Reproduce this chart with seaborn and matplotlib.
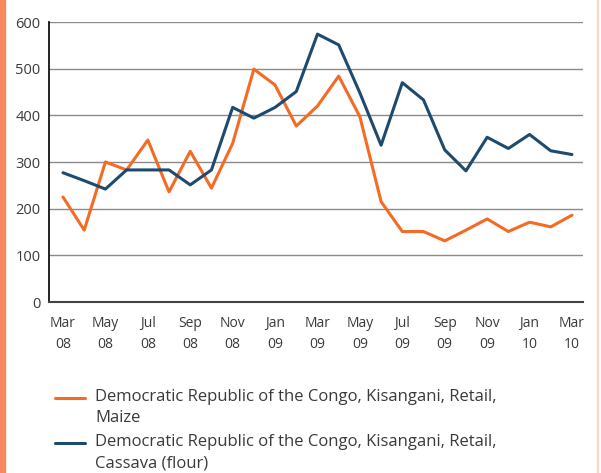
import numpy as np
import pandas as pd
import matplotlib
matplotlib.use("Agg")
import matplotlib.pyplot as plt
import seaborn as sns
from matplotlib.patches import Rectangle
from matplotlib.transforms import Affine2D

# monthly prices, Mar 08 .. Mar 10
months = ["Mar 08", "Apr 08", "May 08", "Jun 08", "Jul 08", "Aug 08", "Sep 08",
          "Oct 08", "Nov 08", "Dec 08", "Jan 09", "Feb 09", "Mar 09", "Apr 09",
          "May 09", "Jun 09", "Jul 09", "Aug 09", "Sep 09", "Oct 09", "Nov 09",
          "Dec 09", "Jan 10", "Feb 10", "Mar 10"]
maize = [225, 154, 300, 283, 347, 236, 323, 244, 340, 499, 465, 377, 420,
         484, 397, 215, 151, 151, 131, 154, 178, 151, 171, 161, 186]
cassava = [277, 260, 242, 283, 283, 283, 251, 283, 417, 394, 417, 451, 574,
           551, 448, 336, 470, 433, 326, 281, 353, 329, 359, 324, 316]
tick_labels = ["Mar\n08", "May\n08", "Jul\n08", "Sep\n08", "Nov\n08", "Jan\n09",
               "Mar\n09", "May\n09", "Jul\n09", "Sep\n09", "Nov\n09", "Jan\n10",
               "Mar\n10"]
series_names = ["Democratic Republic of the Congo, Kisangani, Retail,\nMaize",
                "Democratic Republic of the Congo, Kisangani, Retail,\nCassava (flour)"]
colors = ["#F36B24", "#1E4A6E"]

df = pd.DataFrame({
    "idx": list(range(len(months))) * 2,
    "price": maize + cassava,
    "series": [series_names[0]] * len(months) + [series_names[1]] * len(months),
})

sns.set_style("white")
plt.rcParams["font.family"] = ["Open Sans", "DejaVu Sans"]

fig = plt.figure(figsize=(6.01, 4.73), dpi=100)
ax = fig.add_axes([49 / 601, 1 - 302 / 473, (583 - 49) / 601, 280 / 473])

sns.lineplot(data=df, x="idx", y="price", hue="series",
             palette=colors, linewidth=2.2, ax=ax, legend=True)

ax.set_xlim(-0.66, 24.52)
ax.set_ylim(0, 600)
ax.set_yticks(range(0, 601, 100))
ax.yaxis.grid(True, color="#8a8a8a", linewidth=1)
ax.xaxis.grid(False)
ax.set_axisbelow(True)

ax.set_xticks(range(0, 25, 2))
ax.set_xticklabels(tick_labels, fontsize=10, color="#3a3a3a", linespacing=1.55)
ax.set_xticks(range(1, 25, 2), minor=True)
ax.tick_params(axis="x", which="major", direction="out", length=5, width=1,
               color="#333333", pad=5)
ax.tick_params(axis="x", which="minor", direction="out", length=3.5, width=1,
               color="#333333")
ax.tick_params(axis="y", direction="out", length=3, width=1, color="#222222",
               labelsize=10.5, labelcolor="#3a3a3a", pad=3)
ax.set_xlabel("")
ax.set_ylabel("")

for side in ["top", "right"]:
    ax.spines[side].set_visible(False)
ax.spines["left"].set_color("#111111")
ax.spines["left"].set_linewidth(1.3)
ax.spines["bottom"].set_color("#444444")
ax.spines["bottom"].set_linewidth(1.5)

handles, labels = ax.get_legend_handles_labels()
leg = ax.legend(handles, labels, loc="upper left",
                bbox_to_anchor=(55 / 601, 1 - 389 / 473),
                bbox_transform=fig.transFigure, frameon=False, fontsize=12,
                handlelength=1.8, handletextpad=0.6, labelspacing=0.45,
                labelcolor="#3a3a3a", borderaxespad=0, borderpad=0)
for t in leg.get_texts():
    t.set_linespacing(1.45)
# line sample sits next to the first text line
for h in leg.legend_handles:
    h.set_transform(h.get_transform() + Affine2D().translate(0, 10))

# orange stripe on left edge and faint frame on right
fig.patches.append(Rectangle((0, 0), 5 / 601, 1, transform=fig.transFigure,
                             color="#F58A5E", zorder=0))
fig.patches.append(Rectangle((597 / 601, 0), 1 / 601, 1, transform=fig.transFigure,
                             color="#F8D9CC", zorder=0))

fig.savefig("out.png", dpi=100)
